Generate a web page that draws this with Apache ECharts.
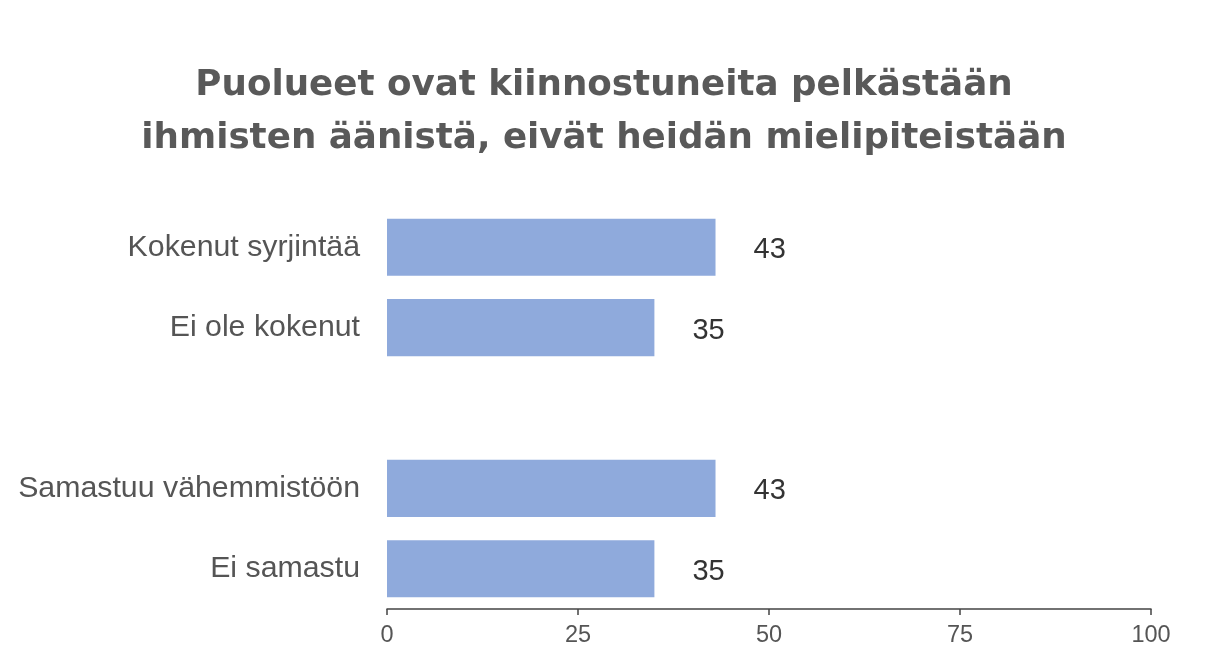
<!DOCTYPE html>
<html>
<head>
<meta charset="utf-8">
<script src="https://cdn.jsdelivr.net/npm/echarts@6/dist/echarts.min.js"></script>
<style>html,body{margin:0;padding:0;background:#fff}#c{width:1208px;height:672px}</style>
</head>
<body>
<div id="c"></div>
<script>
const titleLines = ["Puolueet ovat kiinnostuneita pelkästään", "ihmisten äänistä, eivät heidän mielipiteistään"];
const categories = ["Kokenut syrjintää", "Ei ole kokenut", "", "Samastuu vähemmistöön", "Ei samastu"];
const values = [43, 35, null, 43, 35];
const xTicks = [0, 25, 50, 75, 100];

const chart = echarts.init(document.getElementById('c'));
chart.setOption({
  backgroundColor: '#fff',
  animation: false,
  title: {
    text: titleLines.join('\n'),
    left: 'center',
    top: 54,
    textStyle: {
      fontFamily: 'DejaVu Sans',
      fontWeight: 'bold',
      fontSize: 35.7,
      lineHeight: 53,
      color: '#595959'
    }
  },
  grid: { left: 387, right: 57, top: 207, bottom: 63 },
  xAxis: {
    type: 'value',
    min: 0, max: 100, interval: 25,
    axisLine: { show: true, lineStyle: { color: '#444', width: 1.5 } },
    axisTick: { show: true, length: 6, lineStyle: { color: '#444', width: 1.5 } },
    splitLine: { show: false },
    axisLabel: {
      margin: 15,
      fontFamily: 'Liberation Sans',
      fontSize: 23.5,
      color: '#555',
      formatter: v => xTicks.includes(v) ? String(v) : ''
    }
  },
  yAxis: {
    type: 'category',
    data: categories,
    inverse: true,
    axisLine: { show: false },
    axisTick: { show: false },
    axisLabel: {
      margin: 27,
      fontFamily: 'Liberation Sans',
      fontSize: 30.3,
      color: '#555'
    }
  },
  series: [{
    type: 'bar',
    data: values,
    barWidth: '71%',
    itemStyle: { color: '#8faadc' },
    label: {
      show: true,
      position: 'right',
      distance: 38,
      offset: [0, 3],
      fontFamily: 'Liberation Sans',
      fontSize: 29,
      color: '#333'
    }
  }]
});
</script>
</body>
</html>
